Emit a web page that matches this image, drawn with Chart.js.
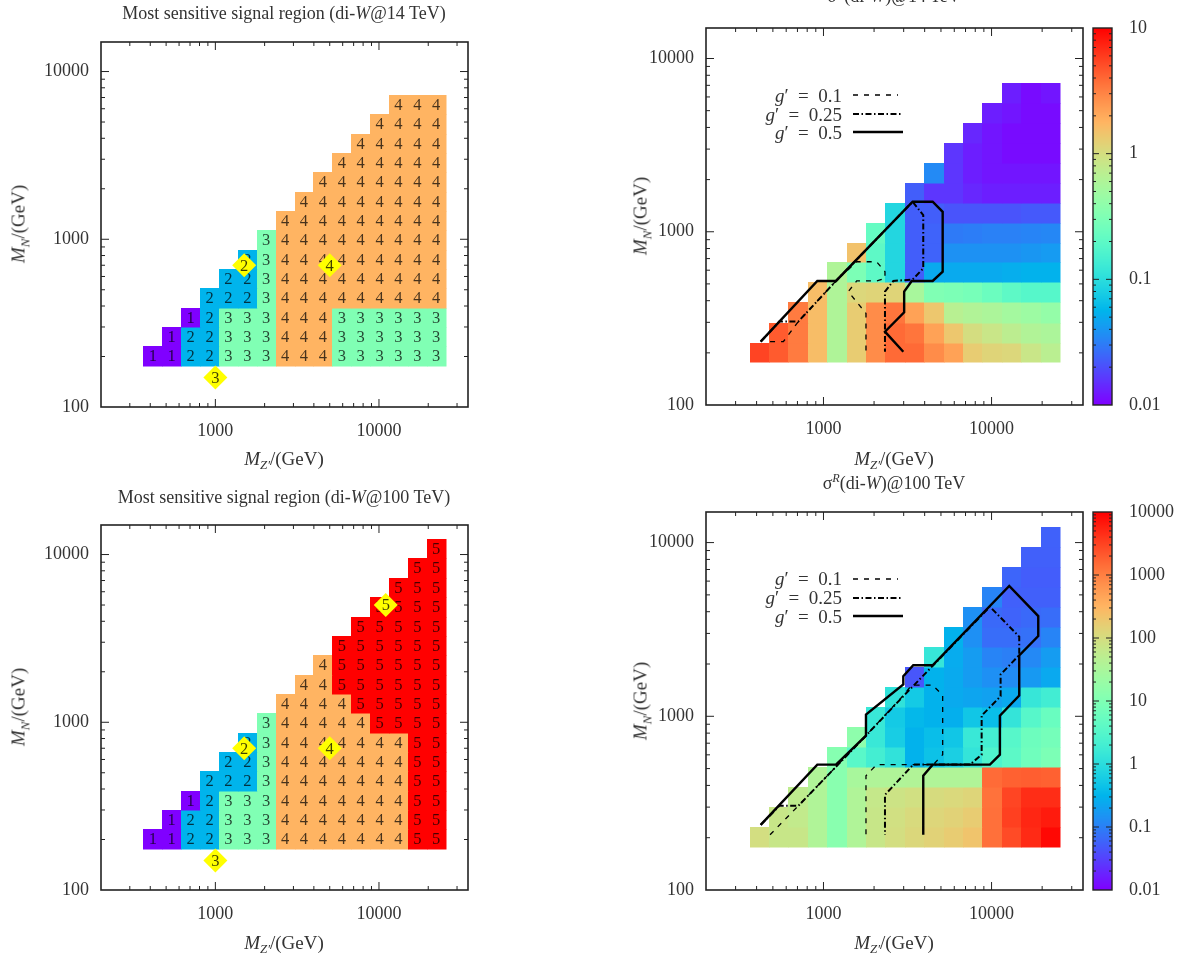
<!DOCTYPE html>
<html lang="en">
<head>
<meta charset="UTF-8">
<title>di-W signal regions and cross sections</title>
<script src="https://cdn.jsdelivr.net/npm/chart.js@4.4.1/dist/chart.umd.min.js"></script>
<style>
  body { margin: 0; background: #fff; }
  #page { position: relative; width: 1185px; height: 958px; overflow: hidden; font-family: 'Liberation Serif', serif; color: #333; }
  canvas { position: absolute; }
  .txt { position: absolute; white-space: nowrap; font-size: 18px; line-height: 1; transform: translate(-50%, -50%); }
  .ax { font-size: 19px; }
  .ylab { transform: translate(-50%, -50%) rotate(-90deg); }
  .leg { position: absolute; white-space: nowrap; font-size: 19px; line-height: 1; transform: translate(-100%, -50%); }
  sub, sup { font-size: 68%; line-height: 0; }
</style>
</head>
<body>
<div id="page">
  <canvas id="c1" width="592" height="479" style="left:0;top:0"></canvas>
  <canvas id="c2" width="593" height="479" style="left:592px;top:0"></canvas>
  <canvas id="c3" width="592" height="479" style="left:0;top:479px"></canvas>
  <canvas id="c4" width="593" height="479" style="left:592px;top:479px"></canvas>

  <div class="txt" style="left:284px;top:13px">Most sensitive signal region (di-<i>W</i>@14 TeV)</div>
  <div class="txt ax" style="left:284px;top:458px"><i>M</i><sub><i>Z′</i></sub>/(GeV)</div>
  <div class="txt ax ylab" style="left:18px;top:224px"><i>M</i><sub><i>N</i></sub>/(GeV)</div>

  <div class="txt" style="left:894px;top:-4px">σ<sup><i>R</i></sup>(di-<i>W</i>)@14 TeV</div>
  <div class="txt ax" style="left:894px;top:458px"><i>M</i><sub><i>Z′</i></sub>/(GeV)</div>
  <div class="txt ax ylab" style="left:640px;top:216px"><i>M</i><sub><i>N</i></sub>/(GeV)</div>
  <div class="leg" style="left:842px;top:95px"><i>g</i>′&ensp;=&ensp;0.1</div>
  <div class="leg" style="left:842px;top:114px"><i>g</i>′&ensp;=&ensp;0.25</div>
  <div class="leg" style="left:842px;top:132px"><i>g</i>′&ensp;=&ensp;0.5</div>

  <div class="txt" style="left:284px;top:497px">Most sensitive signal region (di-<i>W</i>@100 TeV)</div>
  <div class="txt ax" style="left:284px;top:942px"><i>M</i><sub><i>Z′</i></sub>/(GeV)</div>
  <div class="txt ax ylab" style="left:18px;top:707px"><i>M</i><sub><i>N</i></sub>/(GeV)</div>

  <div class="txt" style="left:894px;top:483px">σ<sup><i>R</i></sup>(di-<i>W</i>)@100 TeV</div>
  <div class="txt ax" style="left:894px;top:942px"><i>M</i><sub><i>Z′</i></sub>/(GeV)</div>
  <div class="txt ax ylab" style="left:640px;top:701px"><i>M</i><sub><i>N</i></sub>/(GeV)</div>
  <div class="leg" style="left:842px;top:578px"><i>g</i>′&ensp;=&ensp;0.1</div>
  <div class="leg" style="left:842px;top:597px"><i>g</i>′&ensp;=&ensp;0.25</div>
  <div class="leg" style="left:842px;top:616px"><i>g</i>′&ensp;=&ensp;0.5</div>
</div>
<script>
// grid of mass points (cell centres), GeV
const mZp = [415, 541, 706, 921, 1202, 1568, 2045, 2668, 3480, 4540, 5923, 7726, 10079, 13148, 17152, 22375];
const mN = [201, 262, 342, 446, 582, 759, 990, 1291, 1684, 2197, 2866, 3739, 4877, 6362, 8300, 10827];

// most sensitive signal region, row j = mN[j], starting at column mZp[j]
const region14 = [
  [1,1,2,2,3,3,3,4,4,4,3,3,3,3,3,3],
  [1,2,2,3,3,3,4,4,4,3,3,3,3,3,3],
  [1,2,3,3,3,4,4,4,3,3,3,3,3,3],
  [2,2,2,3,4,4,4,4,4,4,4,4,4],
  [2,2,3,4,4,4,4,4,4,4,4,4],
  [2,3,4,4,4,4,4,4,4,4,4],
  [3,4,4,4,4,4,4,4,4,4],
  [4,4,4,4,4,4,4,4,4],
  [4,4,4,4,4,4,4,4],
  [4,4,4,4,4,4,4],
  [4,4,4,4,4,4],
  [4,4,4,4,4],
  [4,4,4,4],
  [4,4,4]
];
const region100 = [
  [1,1,2,2,3,3,3,4,4,4,4,4,4,4,5,5],
  [1,2,2,3,3,3,4,4,4,4,4,4,4,5,5],
  [1,2,3,3,3,4,4,4,4,4,4,4,5,5],
  [2,2,2,3,4,4,4,4,4,4,4,5,5],
  [2,2,3,4,4,4,4,4,4,4,5,5],
  [2,3,4,4,4,4,4,4,4,5,5],
  [3,4,4,4,4,4,5,5,5,5],
  [4,4,4,4,5,5,5,5,5],
  [4,4,5,5,5,5,5,5],
  [4,5,5,5,5,5,5],
  [5,5,5,5,5,5],
  [5,5,5,5,5],
  [5,5,5,5],
  [5,5,5],
  [5,5],
  [5]
];

// benchmark points [mZ', mN, label]
const bench14 = [[1000, 150, '3'], [1500, 700, '2'], [5000, 700, '4']];
const bench100 = [[1000, 150, '3'], [1500, 700, '2'], [5000, 700, '4'], [11000, 5000, '5']];

// sigma^R (di-W), same row layout
const sigma14 = [
  [5.5, 4.5, 3.3, 1.6, 0.6, 1.3, 2.8, 3.9, 3.9, 2.8, 2.2, 1.3, 1.15, 1.1, 0.85, 0.7],
  [4.5, 3.3, 1.6, 0.6, 1.3, 2.8, 3.9, 3.5, 2.2, 1.4, 1.0, 0.85, 0.72, 0.62, 0.58],
  [3.3, 1.6, 0.6, 1.3, 2.8, 3.5, 2.2, 1.4, 0.68, 0.62, 0.58, 0.52, 0.47, 0.42],
  [1.6, 0.6, 1.1, 1.15, 1.15, 0.55, 0.32, 0.3, 0.28, 0.24, 0.2, 0.18, 0.18],
  [0.6, 0.3, 0.2, 0.09, 0.023, 0.05, 0.05, 0.05, 0.05, 0.052, 0.055, 0.055],
  [1.5, 0.2, 0.09, 0.023, 0.024, 0.038, 0.038, 0.038, 0.038, 0.04, 0.042],
  [0.22, 0.09, 0.023, 0.024, 0.03, 0.031, 0.032, 0.032, 0.033, 0.034],
  [0.09, 0.023, 0.023, 0.021, 0.021, 0.021, 0.021, 0.022, 0.022],
  [0.023, 0.016, 0.016, 0.014, 0.013, 0.013, 0.013, 0.013],
  [0.035, 0.016, 0.013, 0.012, 0.012, 0.012, 0.012],
  [0.016, 0.013, 0.012, 0.011, 0.011, 0.011],
  [0.014, 0.012, 0.011, 0.011, 0.011],
  [0.013, 0.012, 0.011, 0.011],
  [0.013, 0.011, 0.012]
];
const sigma100 = [
  [95, 70, 70, 37, 13, 37, 70, 95, 120, 140, 170, 210, 1350, 2700, 4800, 8700],
  [70, 60, 37, 13, 37, 70, 90, 110, 125, 140, 170, 1350, 3300, 5200, 6300],
  [55, 37, 13, 37, 65, 80, 90, 105, 115, 130, 1300, 3000, 4600, 4600],
  [37, 13, 30, 37, 37, 38, 37, 37, 37, 1500, 1800, 1900, 1800],
  [12, 3.5, 2, 1.2, 0.3, 0.45, 0.65, 1.3, 2.7, 3.8, 6.5, 9],
  [15, 1.5, 0.6, 0.3, 0.4, 0.5, 1.5, 2.0, 3.3, 6, 7.5],
  [1.5, 0.55, 0.35, 0.3, 0.28, 0.5, 0.4, 1.3, 3.3, 5.5],
  [1.2, 0.55, 0.3, 0.25, 0.22, 0.2, 0.24, 1.4, 1.9],
  [0.045, 0.3, 0.25, 0.18, 0.14, 0.13, 0.17, 0.24],
  [1.4, 0.26, 0.18, 0.11, 0.1, 0.12, 0.18],
  [0.3, 0.14, 0.07, 0.07, 0.075, 0.11],
  [0.14, 0.065, 0.058, 0.065, 0.07],
  [0.11, 0.055, 0.055, 0.055],
  [0.06, 0.052, 0.052],
  [0.055, 0.055],
  [0.056]
];

// exclusion contours [mZ', mN]
const c14g01 = [[481,232],[577,232],[708,303],[1187,520],[1575,671],[2072,671],[2322,588],[2322,538],[2072,520],[1575,520],[1405,451],[1790,338],[1790,203]];
const c14g025 = [[423,232],[546,303],[708,303],[1187,520],[3391,1490],[3923,1247],[3923,615],[3391,530],[2603,520],[2322,451],[2322,203]];
const c14g05 = [[423,232],[919,520],[1187,520],[3391,1490],[4463,1490],[5119,1303],[5119,588],[4463,520],[3350,520],[3020,451],[3020,343],[2322,265],[2985,203]];
const c100g01 = [[481,208],[708,305],[1790,774],[2985,1317],[3347,1511],[4463,1511],[5119,1322],[5119,601],[4500,527],[2072,527],[1790,455],[1790,208]];
const c100g025 = [[423,237],[546,305],[708,305],[1790,774],[2985,1305],[9780,4275],[14610,2873],[14610,2250],[11320,1740],[11320,1305],[8730,1009],[8730,601],[7430,527],[3420,527],[2322,353],[2322,208]];
const c100g05 = [[423,237],[919,527],[1187,527],[1790,774],[1790,1023],[2985,1525],[2985,1702],[3420,1968],[4463,1968],[12740,5623],[18960,3776],[18960,2897],[14610,2240],[14610,1317],[11210,1009],[11210,601],[9780,527],[4463,527],[3923,455],[3923,208]];

const serif = "'Liberation Serif', serif";
const tickFont = { family: serif, size: 18 };

// gnuplot rainbow palette (33,13,10)
function pal(t) {
  t = Math.min(1, Math.max(0, t));
  const r = Math.min(1, Math.abs(2 * t - 0.5));
  const g = Math.sin(Math.PI * t);
  const b = Math.max(0, Math.cos(Math.PI * t / 2));
  return `rgb(${Math.round(r * 255)},${Math.round(g * 255)},${Math.round(b * 255)})`;
}

function edges(c) {
  const e = [c[0] * Math.sqrt(c[0] / c[1])];
  for (let i = 1; i < c.length; i++) e.push(Math.sqrt(c[i - 1] * c[i]));
  e.push(c[c.length - 1] * Math.sqrt(c[c.length - 1] / c[c.length - 2]));
  return e;
}

function decadeLabel(v) {
  const l = Math.log10(v);
  if (Math.abs(l - Math.round(l)) > 1e-6) return '';
  return l < 0 ? v.toFixed(-Math.round(l)) : String(Math.round(v));
}
const isMajor = v => Math.abs(Math.log10(v) - Math.round(Math.log10(v))) < 1e-6;
const isNice = v => {
  const m = v / Math.pow(10, Math.floor(Math.log10(v) + 1e-9));
  return Math.abs(m - Math.round(m)) < 1e-6;
};

function xScale(h) {
  return {
    type: 'logarithmic', position: 'bottom', min: 200, max: 35000,
    grid: { display: false, drawTicks: false }, border: { display: false },
    ticks: { autoSkip: false, maxRotation: 0, padding: 13, font: tickFont, color: '#333', callback: decadeLabel },
    afterFit(s) { s.height = h; }
  };
}
function yScale(w) {
  return {
    type: 'logarithmic', position: 'left', min: 100, max: 15000,
    grid: { display: false, drawTicks: false }, border: { display: false },
    ticks: { autoSkip: false, padding: 12, font: tickFont, color: '#333', callback: decadeLabel },
    afterFit(s) { s.width = w; }
  };
}
// colour-bar axis: labels pushed right by an invisible tick length
function cbScale(min, max) {
  return {
    type: 'logarithmic', position: 'right', axis: 'y', min: min, max: max,
    grid: { display: false, drawTicks: true, tickLength: 46 }, border: { display: false },
    ticks: { autoSkip: false, padding: 0, font: tickFont, color: '#333', callback: decadeLabel },
    afterFit(s) { s.width = 102; }
  };
}

// heat-map cells, coloured either by region number or through the colour-bar scale
function cellsPlugin(rows, numbers) {
  return {
    id: 'cells',
    beforeDatasetsDraw(chart) {
      const { ctx, scales } = chart;
      const ex = edges(mZp), ey = edges(mN);
      const colorOf = v => {
        if (numbers) return pal((v - 1) / 4);
        const cb = scales.cb;
        return pal((cb.getPixelForValue(v) - cb.bottom) / (cb.top - cb.bottom));
      };
      ctx.save();
      rows.forEach((row, j) => row.forEach((v, k) => {
        const i = j + k;
        const x0 = Math.round(scales.x.getPixelForValue(ex[i])), x1 = Math.round(scales.x.getPixelForValue(ex[i + 1]));
        const y0 = Math.round(scales.y.getPixelForValue(ey[j + 1])), y1 = Math.round(scales.y.getPixelForValue(ey[j]));
        ctx.fillStyle = colorOf(v);
        ctx.fillRect(x0, y0, x1 - x0 + 0.5, y1 - y0 + 0.5);
      }));
      if (numbers) {
        ctx.font = `16.5px ${serif}`;
        ctx.fillStyle = 'rgba(0,0,0,0.72)';
        ctx.textAlign = 'center';
        ctx.textBaseline = 'middle';
        rows.forEach((row, j) => row.forEach((v, k) => {
          const px = scales.x.getPixelForValue(mZp[j + k]);
          const py = scales.y.getPixelForValue(mN[j]);
          ctx.fillText(String(v), px, py + 1);
        }));
      }
      ctx.restore();
    }
  };
}

function benchLabels(points) {
  return {
    id: 'benchLabels',
    afterDatasetsDraw(chart) {
      const { ctx } = chart;
      const meta = chart.getDatasetMeta(0);
      ctx.save();
      ctx.font = `16.5px ${serif}`;
      ctx.fillStyle = 'rgba(0,0,0,0.75)';
      ctx.textAlign = 'center';
      ctx.textBaseline = 'middle';
      meta.data.forEach((el, i) => ctx.fillText(points[i][2], el.x, el.y + 1));
      ctx.restore();
    }
  };
}

// legend samples for the contour lines: text sits in the page, lines drawn here
const legendLines = {
  id: 'legendLines',
  afterDatasetsDraw(chart) {
    const { ctx, chartArea: a } = chart;
    ctx.save();
    ctx.strokeStyle = '#000';
    chart.data.datasets.slice(0, 3).forEach((ds, i) => {
      ctx.lineWidth = ds.borderWidth;
      ctx.setLineDash(ds.borderDash || []);
      const y = a.top + [67, 86, 104][i];
      ctx.beginPath();
      ctx.moveTo(a.left + 147, y);
      ctx.lineTo(a.left + (i === 0 ? 192 : 197), y);
      ctx.stroke();
    });
    ctx.restore();
  }
};

// frame with inward ticks on all sides, plus colour bar when present
const framePlugin = {
  id: 'frame',
  afterDraw(chart) {
    const { ctx, chartArea: a, scales } = chart;
    ctx.save();
    ctx.strokeStyle = '#222';
    ctx.lineWidth = 1;
    ctx.beginPath();
    scales.x.ticks.forEach(t => {
      if (!isNice(t.value)) return;
      const p = scales.x.getPixelForValue(t.value);
      if (p <= a.left + 1 || p >= a.right - 1) return;
      const len = isMajor(t.value) ? 8 : 4;
      ctx.moveTo(p, a.bottom); ctx.lineTo(p, a.bottom - len);
      ctx.moveTo(p, a.top); ctx.lineTo(p, a.top + len);
    });
    scales.y.ticks.forEach(t => {
      if (!isNice(t.value)) return;
      const p = scales.y.getPixelForValue(t.value);
      if (p <= a.top + 1 || p >= a.bottom - 1) return;
      const len = isMajor(t.value) ? 8 : 4;
      ctx.moveTo(a.left, p); ctx.lineTo(a.left + len, p);
      ctx.moveTo(a.right, p); ctx.lineTo(a.right - len, p);
    });
    ctx.stroke();
    ctx.lineWidth = 1.6;
    ctx.strokeRect(a.left, a.top, a.right - a.left, a.bottom - a.top);

    const cb = scales.cb;
    if (cb) {
      const bx0 = a.right + 10, bx1 = a.right + 29;
      for (let py = Math.floor(a.top); py < a.bottom; py++) {
        ctx.fillStyle = pal((cb.getPixelForValue(cb.getValueForPixel(py + 0.5)) - cb.bottom) / (cb.top - cb.bottom));
        ctx.fillRect(bx0, py, bx1 - bx0, 1);
      }
      ctx.lineWidth = 1;
      ctx.beginPath();
      cb.ticks.forEach(t => {
        if (!isNice(t.value)) return;
        const p = cb.getPixelForValue(t.value);
        if (p <= a.top + 1 || p >= a.bottom - 1) return;
        const len = isMajor(t.value) ? 6 : 3;
        ctx.moveTo(bx0, p); ctx.lineTo(bx0 + len, p);
        ctx.moveTo(bx1, p); ctx.lineTo(bx1 - len, p);
      });
      ctx.stroke();
      ctx.lineWidth = 1.4;
      ctx.strokeRect(bx0, a.top, bx1 - bx0, a.bottom - a.top);
    }
    ctx.restore();
  }
};

const pts = arr => arr.map(p => ({ x: p[0], y: p[1] }));
function diamonds(points) {
  return {
    data: pts(points), pointStyle: 'rectRot', pointRadius: 12, pointHoverRadius: 12,
    backgroundColor: '#ffff00', borderWidth: 0, showLine: false
  };
}
function contour(arr, style) {
  const d = { data: pts(arr), showLine: true, borderColor: '#000', pointRadius: 0, fill: false, tension: 0 };
  if (style === 'dash') { d.borderWidth = 1.3; d.borderDash = [5, 6]; }
  else if (style === 'dashdot') { d.borderWidth = 2; d.borderDash = [6, 2.5, 1.5, 2.5]; }
  else { d.borderWidth = 2.4; }
  return d;
}

const baseOpts = {
  responsive: false, animation: false, events: [],
  plugins: { legend: { display: false }, tooltip: { enabled: false } }
};

new Chart(document.getElementById('c1'), {
  type: 'scatter',
  data: { datasets: [diamonds(bench14)] },
  options: { ...baseOpts, layout: { padding: { top: 42, right: 124, left: 0, bottom: 0 } },
    scales: { x: xScale(72), y: yScale(101) } },
  plugins: [cellsPlugin(region14, true), benchLabels(bench14), framePlugin]
});

new Chart(document.getElementById('c3'), {
  type: 'scatter',
  data: { datasets: [diamonds(bench100)] },
  options: { ...baseOpts, layout: { padding: { top: 46, right: 124, left: 0, bottom: 0 } },
    scales: { x: xScale(68), y: yScale(101) } },
  plugins: [cellsPlugin(region100, true), benchLabels(bench100), framePlugin]
});

new Chart(document.getElementById('c2'), {
  type: 'scatter',
  data: { datasets: [contour(c14g01, 'dash'), contour(c14g025, 'dashdot'), contour(c14g05, 'solid')] },
  options: { ...baseOpts, layout: { padding: { top: 28, right: 0, left: 0, bottom: 0 } },
    scales: { x: xScale(74), y: yScale(114), cb: cbScale(0.01, 10) } },
  plugins: [cellsPlugin(sigma14, false), legendLines, framePlugin]
});

new Chart(document.getElementById('c4'), {
  type: 'scatter',
  data: { datasets: [contour(c100g01, 'dash'), contour(c100g025, 'dashdot'), contour(c100g05, 'solid')] },
  options: { ...baseOpts, layout: { padding: { top: 33, right: 0, left: 0, bottom: 0 } },
    scales: { x: xScale(68), y: yScale(114), cb: cbScale(0.01, 10000) } },
  plugins: [cellsPlugin(sigma100, false), legendLines, framePlugin]
});
</script>
</body>
</html>
